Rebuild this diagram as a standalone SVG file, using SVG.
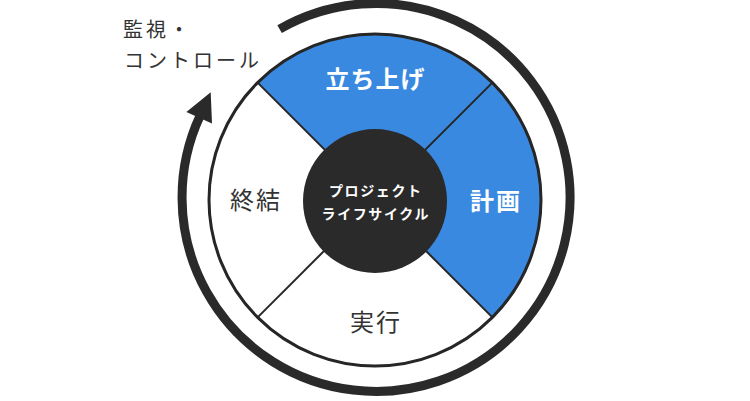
<svg xmlns="http://www.w3.org/2000/svg" width="750" height="401" viewBox="0 0 750 401">
<style>
text{font-family:"Noto Sans CJK JP","Noto Sans",sans-serif;}
.lbl{font-size:24px;text-anchor:middle;}
.wb{fill:#ffffff;font-weight:bold;}
.dk{fill:#333333;font-weight:normal;}
.ctr{font-size:14px;fill:#ffffff;font-weight:bold;text-anchor:middle;letter-spacing:1.6px;}
.side{font-size:20px;fill:#333333;letter-spacing:3px;}
.div{stroke:#262626;stroke-width:2;}
</style>
<rect width="750" height="401" fill="#ffffff"/>
<g id="connectors">
<path d="M279.6,29.1 A194,194 0 1 1 200.2,115.5" fill="none" stroke="#2a2a2a" stroke-width="9"/>
<polygon points="210.7,92.2 212.0,123.5 186.4,111.9" fill="#2a2a2a"/>
</g>
<g id="ring">
<circle cx="375" cy="200" r="166" fill="#ffffff"/>
</g>
<g id="node-start">
<path d="M375,200 L257.6,82.6 A166,166 0 0 1 492.4,82.6 Z" fill="#3a89e0"/>
<text class="lbl wb" x="375.5" y="88" style="letter-spacing:1px">立ち上げ</text>
</g>
<g id="node-plan">
<path d="M375,200 L492.4,82.6 A166,166 0 0 1 492.4,317.4 Z" fill="#3a89e0"/>
<text class="lbl wb" x="496" y="210" style="letter-spacing:2px">計画</text>
</g>
<g id="node-exec">
<text class="lbl dk" x="376" y="331" style="letter-spacing:2px">実行</text>
</g>
<g id="node-close">
<text class="lbl dk" x="256" y="209" style="letter-spacing:2px">終結</text>
</g>
<g id="dividers">
<line class="div" x1="257.6" y1="82.6" x2="492.4" y2="317.4"/>
<line class="div" x1="492.4" y1="82.6" x2="257.6" y2="317.4"/>
<circle cx="375" cy="200" r="166" fill="none" stroke="#262626" stroke-width="3"/>
</g>
<g id="node-center">
<circle cx="375" cy="201" r="72" fill="#2a2a2a"/>
<text class="ctr" x="375.8" y="196">プロジェクト</text>
<text class="ctr" x="375.8" y="219">ライフサイクル</text>
</g>
<g id="node-monitor">
<text class="side" x="123" y="37">監視・</text>
<text class="side" x="124" y="68">コントロール</text>
</g>
</svg>
